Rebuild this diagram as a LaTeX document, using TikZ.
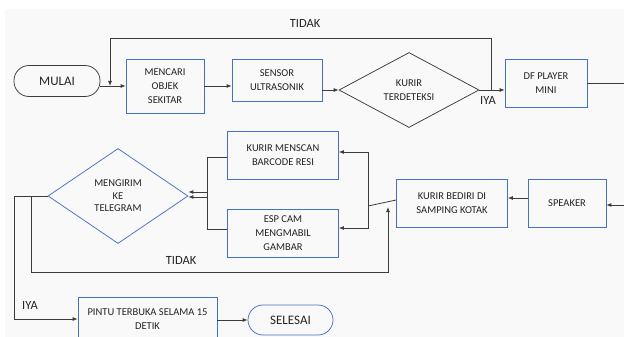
\documentclass[tikz,border=0pt]{standalone}
\usepackage{fontspec}
\setmainfont{Carlito}
\usepackage{xcolor}
\usetikzlibrary{shapes.geometric,arrows.meta}
\definecolor{boxblue}{RGB}{68,114,196}
\definecolor{wiregray}{RGB}{60,60,60}
\definecolor{bggray}{RGB}{249,249,249}
\definecolor{txtdark}{RGB}{35,35,35}

\begin{document}
\begin{tikzpicture}[x=1pt,y=1pt,yscale=-1,xscale=1,
  box/.style={draw=boxblue,line width=0.75pt,align=center,inner sep=1pt,text=txtdark,font=\fontsize{10.5}{14}\selectfont},
  term/.style={box,rounded corners=15pt,font=\fontsize{13}{15}\selectfont},
  decision/.style={box,diamond,inner sep=0pt},
  wire/.style={draw=wiregray,line width=0.8pt},
  flow/.style={wire,-{Latex[length=5pt,width=4pt]}},
  lbl/.style={inner sep=0pt,text=txtdark,font=\fontsize{12.5}{15}\selectfont}
]
\useasboundingbox (0,0) rectangle (624,337);
\fill [bggray] (5,9) rectangle (624,337);

%Shape: Terminal
\node [term,draw=wiregray,minimum width=86,minimum height=31] (mulai) at (57,81) {MULAI};
%Shape: Rectangle
\node [box,minimum width=78,minimum height=54] (mencari) at (165,86) {MENCARI\\OBJEK\\SEKITAR};
%Shape: Rectangle
\node [box,minimum width=90,minimum height=42] (sensor) at (277,80) {SENSOR\\ULTRASONIK};
%Shape: Diamond
\node [decision,draw=wiregray,minimum width=140,minimum height=75] (kurir) at (409,90) {KURIR\\TERDETEKSI};
%Shape: Rectangle
\node [box,minimum width=82,minimum height=48] (dfplayer) at (546,83) {DF PLAYER\\MINI};
%Shape: Rectangle
\node [box,minimum width=78,minimum height=48] (speaker) at (567,203) {SPEAKER};
%Shape: Rectangle
\node [box,minimum width=111,minimum height=48] (bediri) at (452,203) {KURIR BEDIRI DI\\SAMPING KOTAK};
%Shape: Rectangle
\node [box,minimum width=111,minimum height=48] (menscan) at (283,155) {KURIR MENSCAN\\BARCODE RESI};
%Shape: Rectangle
\node [box,minimum width=111,minimum height=48] (espcam) at (283,233) {ESP CAM\\MENGMABIL\\GAMBAR};
%Shape: Diamond
\node [decision,minimum width=140,minimum height=95,font=\fontsize{10.5}{12.5}\selectfont] (telegram) at (118,196) {MENGIRIM\\KE\\TELEGRAM};
%Shape: Rectangle
\node [box,minimum width=139,minimum height=44] (pintu) at (147.5,319) {PINTU TERBUKA SELAMA 15\\DETIK};
%Shape: Terminal
\node [term,minimum width=85,minimum height=30] (selesai) at (290.5,320) {SELESAI};

%Free ends
\coordinate (loopR) at (491,90);
\coordinate (loopL) at (110,86);
\coordinate (outTop) at (624,83);
\coordinate (outBot) at (624,205);
\coordinate (split) at (368,206);
\coordinate (noStart) at (31,196);
\coordinate (noEnd) at (388,207);

%Straight Lines
\draw [flow] (mulai.east |- mencari.west) -- (mencari.west);
\draw [flow] (mencari.east) -- (mencari.east -| sensor.west);
\draw [flow] (sensor.east |- kurir.west) -- (kurir.west);
\draw [flow] (kurir.east) -- (kurir.east -| dfplayer.west);
\draw [flow] (loopR) -- ++(0,-52) -| (loopL);
\draw [wire] (dfplayer.east) -- (outTop);
\draw [flow] (outBot) -- (outBot -| speaker.east);
\draw [flow] ([yshift=-5pt]speaker.west) -- ([yshift=-5pt]bediri.east);
\draw [wire] ([yshift=-3pt]bediri.west) -- (split);
\draw [flow] (split) |- ([yshift=-3pt]menscan.east);
\draw [flow] (split) |- ([yshift=-5pt]espcam.east);
\draw [flow] ([yshift=2pt]menscan.west) -- ++(-20,0) |- ([yshift=1pt]telegram.east);
\draw [flow] ([yshift=-4pt]espcam.west) -- ++(-20,0) |- ([yshift=-4pt]telegram.east);
\draw [flow] (telegram.west) -- ++(-33,0) |- (pintu.west);
\draw [flow] (noStart) -- ++(0,76) -| (noEnd);
\draw [flow] (pintu.east |- selesai.west) -- (selesai.west);

% Text Node
\node [lbl] (tidakTop) at (305,23) {TIDAK};
% Text Node
\node [lbl] (iyaTop) at (488,100) {IYA};
% Text Node
\node [lbl] (tidakBot) at (181,260) {TIDAK};
% Text Node
\node [lbl] (iyaBot) at (30,305) {IYA};

\end{tikzpicture}
\end{document}
